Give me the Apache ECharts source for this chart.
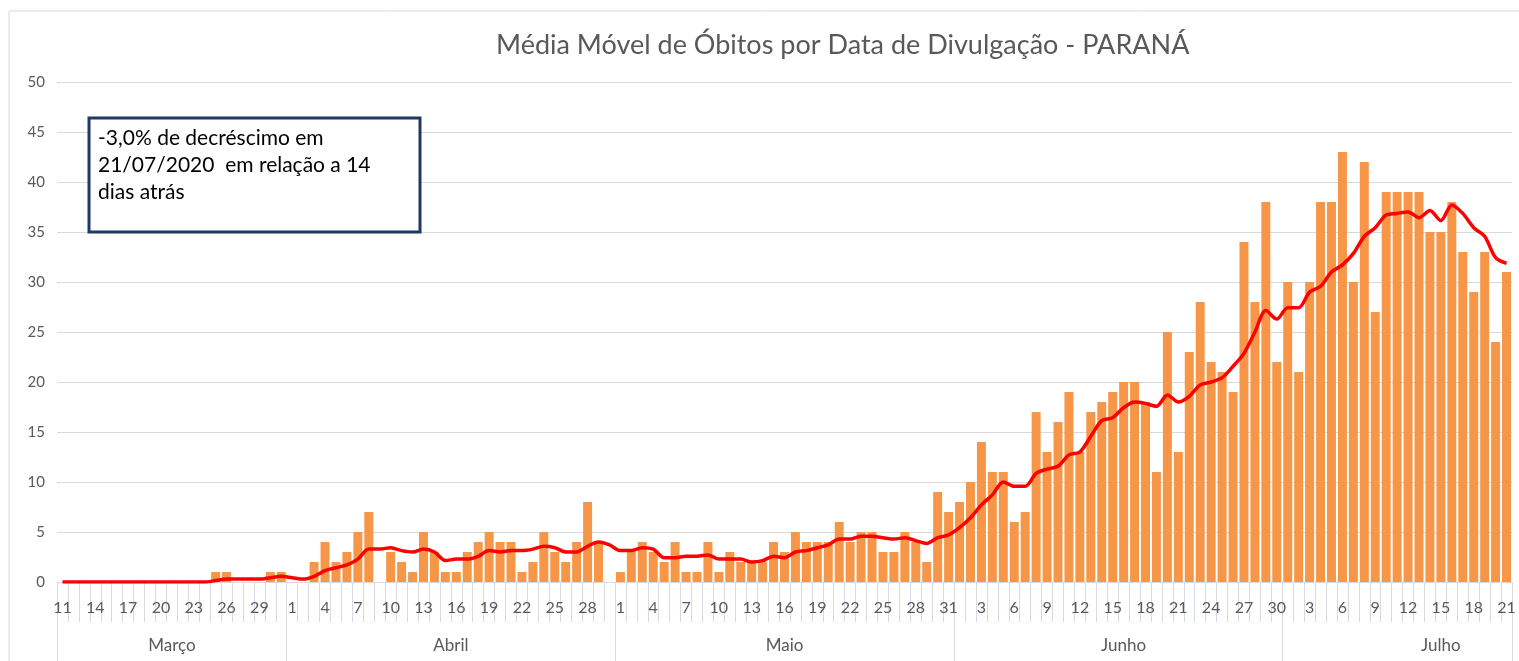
<!DOCTYPE html>
<html>
<head>
<meta charset="utf-8">
<title>Média Móvel de Óbitos - PARANÁ</title>
<script src="https://cdn.jsdelivr.net/npm/echarts@6/dist/echarts.min.js"></script>
<style>
  html, body { margin: 0; padding: 0; background: #fff; }
  #grafico { width: 1519px; height: 661px; }
</style>
</head>
<body>
<div id="grafico"></div>
<script>
// meses do eixo (dia inicial e final de cada um)
var meses = ['Março', 'Abril', 'Maio', 'Junho', 'Julho'];
var mesNum = ['03', '04', '05', '06', '07'];
var diaInicio = [11, 1, 1, 1, 1];
var diaFim = [31, 30, 31, 30, 21];

// óbitos por dia de divulgação
var obitosMar = [0,0,0,0,0,0,0,0,0,0,0,0,0,0,1,1,0,0,0,1,1];
var obitosAbr = [0,0,2,4,2,3,5,7,0,3,2,1,5,3,1,1,3,4,5,4,4,1,2,5,3,2,4,8,4,0];
var obitosMai = [1,3,4,3,2,4,1,1,4,1,3,2,2,2,4,3,5,4,4,4,6,4,5,5,3,3,5,4,2,9,7];
var obitosJun = [8,10,14,11,11,6,7,17,13,16,19,13,17,18,19,20,20,18,11,25,13,23,28,22,21,19,34,28,38,22];
var obitosJul = [30,21,30,38,38,43,30,42,27,39,39,39,39,35,35,38,33,29,33,24,31];

// média móvel (linha vermelha)
var mediaMar = [0,0,0,0,0,0,0,0,0,0,0,0,0,0,0.14,0.29,0.29,0.29,0.29,0.43,0.57];
var mediaAbr = [0.43,0.29,0.57,1.14,1.43,1.71,2.29,3.29,3.29,3.43,3.14,3.0,3.29,3.0,2.14,2.29,2.29,2.57,3.14,3.0,
                3.14,3.14,3.29,3.57,3.43,3.0,3.0,3.57,4.0,3.71];
var mediaMai = [3.14,3.14,3.43,3.29,2.43,2.43,2.57,2.57,2.71,2.29,2.29,2.29,2.0,2.14,2.57,2.43,3.0,3.14,3.43,3.71,
                4.29,4.29,4.57,4.57,4.43,4.29,4.43,4.14,3.86,4.43,4.71];
var mediaJun = [5.43,6.43,7.71,8.71,10.0,9.57,9.57,10.86,11.29,11.57,12.71,13.0,14.57,16.14,16.43,17.43,18.0,17.86,17.57,18.71,
                18.0,18.57,19.71,20.0,20.43,21.57,22.86,25.0,27.14,26.29];
var mediaJul = [27.43,27.43,29.0,29.57,31.0,31.71,32.86,34.57,35.43,36.71,36.86,37.0,36.43,37.14,36.14,37.71,36.86,35.43,34.57,32.43,31.86];

// posição dos nomes dos meses e das divisórias (em índice de dia)
var posNomeMes = [10, 35.5, 66, 97, 126];
var posDivisoria = [-0.5, 20.5, 50.5, 81.5, 111.5, 132.5];

var eixoY = [0, 50, 5];

var dias = [];
for (var m = 0; m < meses.length; m++) {
  for (var d = diaInicio[m]; d <= diaFim[m]; d++) {
    dias.push(d + '/' + mesNum[m]);
  }
}
var obitos = obitosMar.concat(obitosAbr, obitosMai, obitosJun, obitosJul);
var media = mediaMar.concat(mediaAbr, mediaMai, mediaJun, mediaJul);

var chart = echarts.init(document.getElementById('grafico'));
chart.setOption({
  animation: false,
  backgroundColor: '#fff',
  textStyle: { fontFamily: 'Lato' },
  title: {
    text: 'Média Móvel de Óbitos por Data de Divulgação - PARANÁ',
    left: 491,
    top: 27,
    textStyle: { fontFamily: 'Lato', fontSize: 27, fontWeight: 'normal', color: '#595959' }
  },
  grid: { left: 57, right: 7, top: 82, bottom: 79 },
  xAxis: [{
    type: 'category',
    position: 'bottom',
    data: dias,
    boundaryGap: true,
    axisLine: { lineStyle: { color: '#d9d9d9', width: 1 } },
    axisTick: { show: true, interval: 0, length: 40, lineStyle: { color: '#d6dbe3' } },
    axisLabel: {
      interval: 2,
      margin: 18,
      fontSize: 16,
      color: '#595959',
      formatter: function (v) { return String(parseInt(v, 10)); }
    }
  }, {
    type: 'value',
    position: 'bottom',
    min: -0.5,
    max: 132.5,
    axisLine: { show: false },
    splitLine: { show: false },
    axisTick: { show: true, customValues: posDivisoria, length: 80, lineStyle: { color: '#d9d9d9' } },
    axisLabel: {
      customValues: posNomeMes,
      margin: 55,
      fontSize: 17,
      color: '#595959',
      formatter: function (v) { return meses[posNomeMes.indexOf(v)]; }
    }
  }],
  yAxis: {
    type: 'value',
    min: eixoY[0],
    max: eixoY[1],
    interval: eixoY[2],
    axisLine: { show: false },
    axisTick: { show: false },
    axisLabel: { margin: 12, fontSize: 15, color: '#595959' },
    splitLine: { lineStyle: { color: '#d9d9d9' } }
  },
  series: [{
    name: 'Óbitos',
    type: 'bar',
    data: obitos,
    barWidth: '82%',
    itemStyle: { color: '#f79646' }
  }, {
    name: 'Média Móvel',
    type: 'line',
    data: media,
    smooth: 0.3,
    showSymbol: false,
    lineStyle: { color: '#ff0000', width: 3.5 },
    z: 5
  }],
  graphic: [{
    type: 'rect',
    shape: { x: 9, y: 11, width: 1530, height: 670 },
    style: { fill: 'none', stroke: '#d9d9d9', lineWidth: 1 },
    silent: true
  }, {
    type: 'rect',
    shape: { x: 89, y: 118, width: 331, height: 114 },
    style: { fill: '#fff', stroke: '#1f3864', lineWidth: 3 },
    z: 10
  }, {
    type: 'text',
    left: 98,
    top: 125,
    z: 11,
    style: {
      text: '-3,0% de decréscimo em\n21/07/2020  em relação a 14\ndias atrás',
      fontFamily: 'Lato',
      fontSize: 21,
      lineHeight: 27,
      fill: '#000'
    }
  }]
});
</script>
</body>
</html>
